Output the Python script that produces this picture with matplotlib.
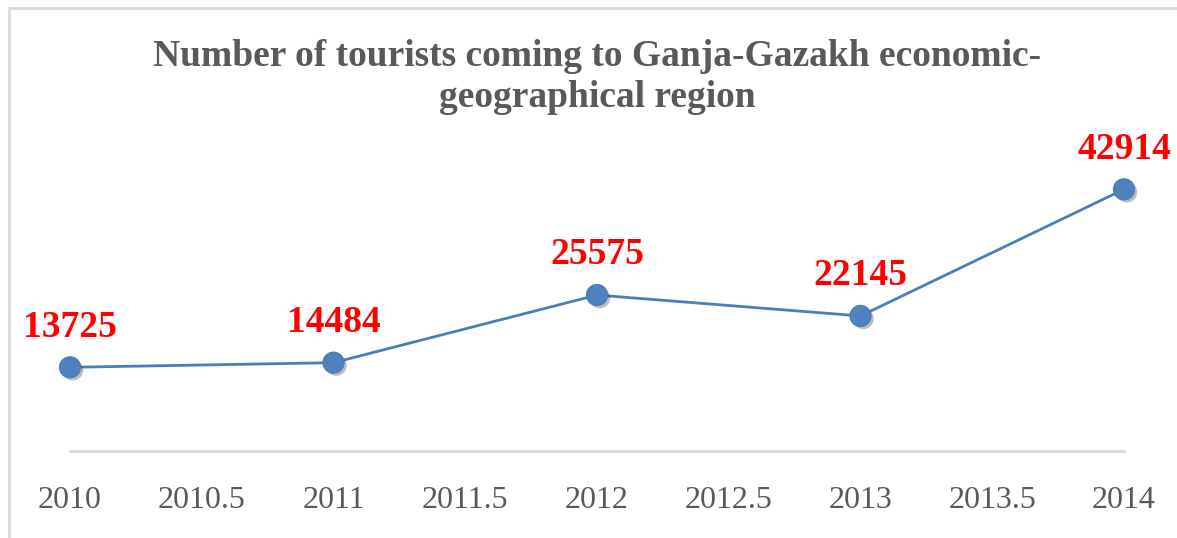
import matplotlib
matplotlib.use("Agg")
import matplotlib.pyplot as plt
from matplotlib.patches import Rectangle
import matplotlib.patheffects as pe

years = [2010, 2011, 2012, 2013, 2014]
tourists = [13725, 14484, 25575, 22145, 42914]
tick_values = [2010, 2010.5, 2011, 2011.5, 2012, 2012.5, 2013, 2013.5, 2014]
tick_labels = ["2010", "2010.5", "2011", "2011.5", "2012", "2012.5", "2013", "2013.5", "2014"]
title = "Number of tourists coming to Ganja-Gazakh economic-\ngeographical region"

W, H = 1177, 538
fig = plt.figure(figsize=(W / 100, H / 100), dpi=100)
fig.patch.set_facecolor("white")

# chart frame
fig.add_artist(Rectangle((9 / W, -0.1), 1.2, (H - 8) / H + 0.1, transform=fig.transFigure,
                         fill=False, edgecolor="#d9d9d9", linewidth=2))

ax = fig.add_axes([70 / W, (H - 451) / H, (1124 - 70) / W, (451 - 140) / H])
ax.set_xlim(2010, 2014)
ax.set_ylim(0, 51000)
for s in ["top", "right", "left"]:
    ax.spines[s].set_visible(False)
ax.spines["bottom"].set_color("#d9d9d9")
ax.spines["bottom"].set_linewidth(2)
ax.set_yticks([])
ax.set_xticks(tick_values)
ax.set_xticklabels(tick_labels, fontfamily="Liberation Serif", fontsize=23, color="#595959")
ax.tick_params(axis="x", length=0, pad=25)
ax.set_facecolor("none")

ax.plot(years, tourists, color="#4a7ebb", linewidth=2, clip_on=False, zorder=3)
ax.plot(years, tourists, linestyle="none", marker="o", markersize=15,
        markerfacecolor="#4f81bd", markeredgecolor="#4a7ebb", clip_on=False, zorder=4,
        path_effects=[pe.SimplePatchShadow(offset=(2, -2), alpha=0.3), pe.Normal()])

for x, y in zip(years, tourists):
    ax.annotate(f"{y}", (x, y), xytext=(0, 29), textcoords="offset points",
                ha="center", va="center", fontfamily="Liberation Serif", fontweight="bold",
                fontsize=27, color="#ff0000", annotation_clip=False)

fig.text(597 / W, 1 - 77 / H, title, ha="center", va="center", fontfamily="Liberation Serif",
         fontweight="bold", fontsize=27, color="#595959", linespacing=1.25)

fig.savefig("out.png", dpi=100)
